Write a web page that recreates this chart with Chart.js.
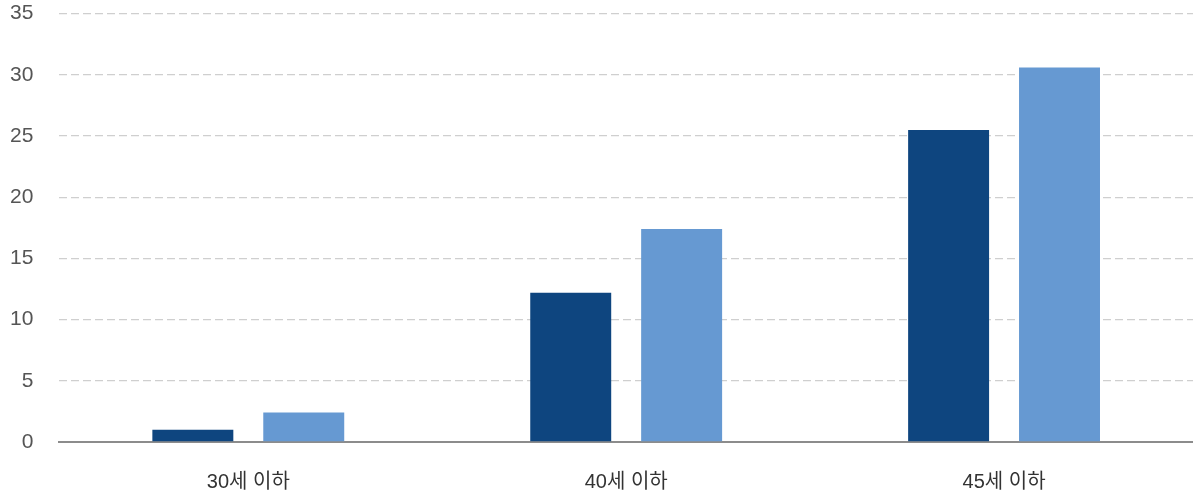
<!DOCTYPE html>
<html lang="ko">
<head>
<meta charset="utf-8">
<script src="https://cdn.jsdelivr.net/npm/chart.js@4"></script>
<style>
  html, body { margin: 0; padding: 0; background: #fff; }
  #wrap { width: 1193px; height: 493px; overflow: hidden; }
  #chart { display: block; margin-top: -25px; }
</style>
</head>
<body>
<div id="wrap"><canvas id="chart" width="1193" height="518"></canvas></div>
<script>
// 데이터
const categories = ["30세 이하", "40세 이하", "45세 이하"];
const seriesDark = [1.0, 12.2, 25.5];
const seriesLight = [2.4, 17.4, 30.6];
const yTicks = [0, 5, 10, 15, 20, 25, 30, 35];

const fontFamily = "'Liberation Sans', Arial, 'Noto Sans CJK KR', sans-serif";

const ctx = document.getElementById("chart").getContext("2d");
new Chart(ctx, {
  type: "bar",
  data: {
    labels: categories,
    datasets: [
      { label: "계열1", data: seriesDark, backgroundColor: "#0e457f" },
      { label: "계열2", data: seriesLight, backgroundColor: "#6699d2" }
    ]
  },
  options: {
    responsive: false,
    animation: false,
    layout: { padding: { top: 0, right: 0, left: -16, bottom: -21 } },
    datasets: { bar: { categoryPercentage: 0.587, barPercentage: 0.73 } },
    plugins: { legend: { display: false }, tooltip: { enabled: false } },
    scales: {
      x: {
        grid: { display: false },
        border: { display: true, color: "#8c8c8c", width: 2 },
        ticks: { color: "#333", padding: 20, font: { family: fontFamily, size: 20 } }
      },
      y: {
        min: yTicks[0],
        max: yTicks[yTicks.length - 1],
        afterBuildTicks: axis => { axis.ticks = yTicks.map(v => ({ value: v })); },
        grid: { color: "#cfcfcf", lineWidth: 1.3, drawTicks: false },
        border: { display: false, dash: [8, 4] },
        ticks: { color: "#555", padding: 26, font: { family: fontFamily, size: 21 } }
      }
    }
  }
});
</script>
</body>
</html>
